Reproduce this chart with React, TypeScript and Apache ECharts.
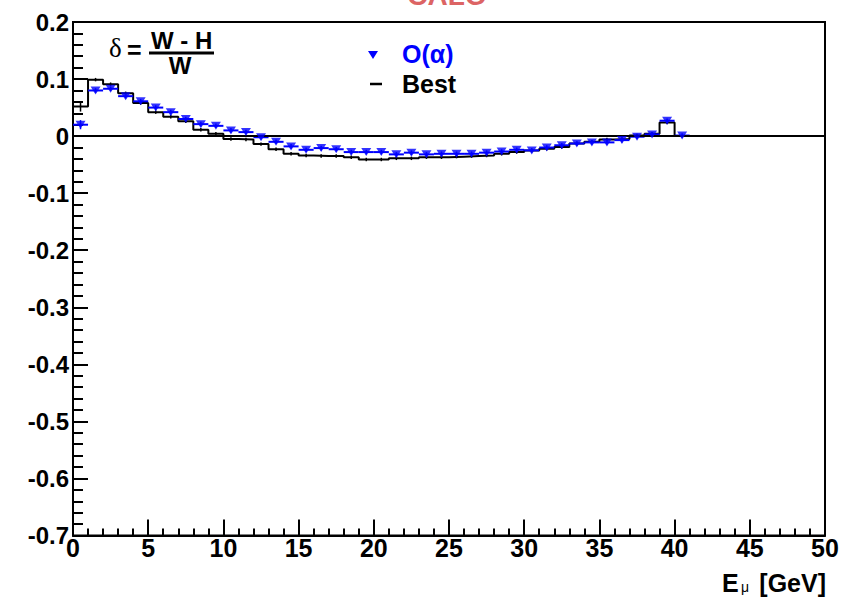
import React, { useEffect, useRef } from "react";
import * as echarts from "echarts";

// Bin centers (GeV), 1 GeV bins from 0 to 41
const binCenters = [
  0.5, 1.5, 2.5, 3.5, 4.5, 5.5, 6.5, 7.5, 8.5, 9.5,
  10.5, 11.5, 12.5, 13.5, 14.5, 15.5, 16.5, 17.5, 18.5, 19.5,
  20.5, 21.5, 22.5, 23.5, 24.5, 25.5, 26.5, 27.5, 28.5, 29.5,
  30.5, 31.5, 32.5, 33.5, 34.5, 35.5, 36.5, 37.5, 38.5, 39.5,
  40.5,
];

// O(alpha) points (blue triangles)
const oAlpha = [
  0.020, 0.080, 0.083, 0.070, 0.061, 0.050, 0.042, 0.030, 0.021, 0.018,
  0.010, 0.007, -0.002, -0.010, -0.018, -0.024, -0.021, -0.023, -0.028, -0.028,
  -0.028, -0.032, -0.029, -0.032, -0.031, -0.031, -0.031, -0.029, -0.027, -0.024,
  -0.025, -0.020, -0.016, -0.013, -0.011, -0.011, -0.007, -0.001, 0.003, 0.027,
  0.001,
];
const oAlphaErr = [
  0.008, 0.004, 0.004, 0.004, 0.004, 0.004, 0.004, 0.004, 0.004, 0.004,
  0.004, 0.004, 0.004, 0.004, 0.004, 0.004, 0.004, 0.004, 0.004, 0.004,
  0.004, 0.004, 0.004, 0.004, 0.004, 0.004, 0.004, 0.004, 0.004, 0.004,
  0.004, 0.004, 0.004, 0.004, 0.004, 0.004, 0.004, 0.004, 0.004, 0.004,
  0.004,
];

// Best (black histogram)
const best = [
  0.052, 0.099, 0.091, 0.075, 0.058, 0.042, 0.034, 0.026, 0.011, 0.004,
  -0.005, -0.006, -0.014, -0.023, -0.031, -0.034, -0.035, -0.035, -0.037, -0.041,
  -0.041, -0.039, -0.039, -0.037, -0.037, -0.036, -0.035, -0.034, -0.031, -0.028,
  -0.025, -0.022, -0.019, -0.013, -0.010, -0.006, -0.005, 0.001, 0.004, 0.024,
  0.0,
];
const bestErr = [
  0.009, 0.003, 0.003, 0.003, 0.003, 0.003, 0.003, 0.003, 0.003, 0.003,
  0.003, 0.003, 0.003, 0.003, 0.003, 0.003, 0.003, 0.003, 0.003, 0.003,
  0.003, 0.003, 0.003, 0.003, 0.003, 0.003, 0.003, 0.003, 0.003, 0.003,
  0.003, 0.003, 0.003, 0.003, 0.003, 0.003, 0.003, 0.003, 0.003, 0.003,
  0.0,
];

const xTicks = [0, 5, 10, 15, 20, 25, 30, 35, 40, 45, 50];
const yTicks = [-0.7, -0.6, -0.5, -0.4, -0.3, -0.2, -0.1, 0, 0.1, 0.2];

const FONT = "'Liberation Sans', Arial, Helvetica, sans-serif";
const BLUE = "#0000ff";

export default function App() {
  const ref = useRef<HTMLDivElement>(null);
  useEffect(() => {
    if (!ref.current) return;
    const chart = echarts.init(ref.current, undefined, { renderer: "svg" });

    const halfW = (binCenters[1] - binCenters[0]) / 2;
    const histData: number[][] = binCenters.map((c, i) => [c - halfW, best[i]]);
    histData.push([binCenters[binCenters.length - 1] + halfW, best[best.length - 1]]);

    const blueData = binCenters.map((c, i) => [c, oAlpha[i], oAlphaErr[i]]);
    const blackErrData = binCenters.map((c, i) => [c, best[i], bestErr[i]]);

    const option: any = {
      animation: false,
      backgroundColor: "#ffffff",
      grid: {
        left: 73,
        right: 27,
        top: 22,
        bottom: 61.5,
        show: true,
        borderColor: "#000",
        borderWidth: 2,
        backgroundColor: "transparent",
      },
      xAxis: {
        type: "value",
        min: xTicks[0],
        max: xTicks[xTicks.length - 1],
        interval: 5,
        splitLine: { show: false },
        axisLine: { show: true, onZero: false, lineStyle: { color: "#000", width: 2 } },
        axisTick: { show: true, inside: true, length: 16, lineStyle: { color: "#000", width: 2 } },
        minorTick: { show: true, splitNumber: 5, length: 7, lineStyle: { color: "#000", width: 2 } },
        minorSplitLine: { show: false },
        axisLabel: {
          color: "#000",
          fontFamily: FONT,
          fontWeight: "bold",
          fontSize: 25,
          margin: 0,
          showMinLabel: true,
          showMaxLabel: true,
        },
      },
      yAxis: {
        type: "value",
        min: yTicks[0],
        max: yTicks[yTicks.length - 1],
        interval: 0.1,
        splitLine: { show: false },
        axisLine: { show: true, onZero: false, lineStyle: { color: "#000", width: 2 } },
        axisTick: { show: true, inside: true, length: 15, lineStyle: { color: "#000", width: 2 } },
        minorTick: { show: true, splitNumber: 5, length: 10, lineStyle: { color: "#000", width: 2 } },
        minorSplitLine: { show: false },
        axisLabel: {
          color: "#000",
          fontFamily: FONT,
          fontWeight: "bold",
          fontSize: 24,
          margin: 4,
          formatter: (v: number) => {
            const r = Math.round(v * 10) / 10;
            return r === 0 ? "0" : String(r);
          },
        },
      },
      series: [
        {
          type: "line",
          data: histData,
          step: "end",
          symbol: "none",
          lineStyle: { color: "#000", width: 2 },
          z: 2,
          markLine: {
            silent: true,
            symbol: "none",
            label: { show: false },
            lineStyle: { color: "#000", width: 2, type: "solid" },
            data: [{ yAxis: 0 }],
          },
        },
        {
          type: "custom",
          data: blackErrData,
          z: 3,
          renderItem: (params: any, api: any) => {
            const x = api.value(0);
            const y = api.value(1);
            const e = api.value(2);
            const pT = api.coord([x, y + e]);
            const pB = api.coord([x, y - e]);
            return {
              type: "line",
              shape: { x1: pT[0], y1: pT[1], x2: pB[0], y2: pB[1] },
              style: { stroke: "#000", lineWidth: 1.5 },
            };
          },
        },
        {
          type: "custom",
          data: blueData,
          z: 4,
          renderItem: (params: any, api: any) => {
            const x = api.value(0);
            const y = api.value(1);
            const e = api.value(2);
            const pL = api.coord([x - 0.5, y]);
            const pR = api.coord([x + 0.5, y]);
            const pT = api.coord([x, y + e]);
            const pB = api.coord([x, y - e]);
            return {
              type: "group",
              children: [
                {
                  type: "line",
                  shape: { x1: pL[0], y1: pL[1], x2: pR[0], y2: pR[1] },
                  style: { stroke: BLUE, lineWidth: 2 },
                },
                {
                  type: "line",
                  shape: { x1: pT[0], y1: pT[1], x2: pB[0], y2: pB[1] },
                  style: { stroke: BLUE, lineWidth: 1.5 },
                },
              ],
            };
          },
        },
        {
          type: "scatter",
          data: binCenters.map((c, i) => [c, oAlpha[i]]),
          symbol: "triangle",
          symbolRotate: 180,
          symbolSize: [10, 8],
          itemStyle: { color: BLUE },
          z: 5,
        },
      ],
      graphic: [
        {
          type: "text",
          x: 447,
          y: -5,
          style: {
            text: "CALO",
            fill: "#dc6464",
            font: `bold 28px ${FONT}`,
            textAlign: "center",
            textVerticalAlign: "middle",
          },
        },
        {
          type: "text",
          x: 109,
          y: 48,
          style: {
            text: "δ",
            fill: "#000",
            font: `27px 'Liberation Serif', 'DejaVu Serif', serif`,
            textAlign: "left",
            textVerticalAlign: "middle",
          },
        },
        {
          type: "text",
          x: 127,
          y: 50,
          style: {
            text: "=",
            fill: "#000",
            font: `bold 25px ${FONT}`,
            textAlign: "left",
            textVerticalAlign: "middle",
          },
        },
        {
          type: "text",
          x: 151,
          y: 40,
          style: {
            text: "W - H",
            fill: "#000",
            font: `bold 24px ${FONT}`,
            textAlign: "left",
            textVerticalAlign: "middle",
          },
        },
        {
          type: "line",
          shape: { x1: 149, y1: 53, x2: 214, y2: 53 },
          style: { stroke: "#000", lineWidth: 3 },
        },
        {
          type: "text",
          x: 180,
          y: 65,
          style: {
            text: "W",
            fill: "#000",
            font: `bold 24px ${FONT}`,
            textAlign: "center",
            textVerticalAlign: "middle",
          },
        },
        {
          type: "polygon",
          shape: { points: [[368, 51], [378, 51], [373, 59]] },
          style: { fill: BLUE },
        },
        {
          type: "text",
          x: 402,
          y: 54,
          style: {
            text: "O(α)",
            fill: BLUE,
            font: `bold 25px ${FONT}`,
            textAlign: "left",
            textVerticalAlign: "middle",
          },
        },
        {
          type: "line",
          shape: { x1: 370, y1: 84, x2: 382, y2: 84 },
          style: { stroke: "#000", lineWidth: 2.5 },
        },
        {
          type: "text",
          x: 402,
          y: 84,
          style: {
            text: "Best",
            fill: "#000",
            font: `bold 25px ${FONT}`,
            textAlign: "left",
            textVerticalAlign: "middle",
          },
        },
        {
          type: "text",
          x: 826,
          y: 583,
          style: {
            text: "[GeV]",
            fill: "#000",
            font: `bold 25px ${FONT}`,
            textAlign: "right",
            textVerticalAlign: "middle",
          },
        },
        {
          type: "text",
          x: 741,
          y: 587,
          style: {
            text: "μ",
            fill: "#000",
            font: `14px ${FONT}`,
            textAlign: "left",
            textVerticalAlign: "middle",
          },
        },
        {
          type: "text",
          x: 722,
          y: 583,
          style: {
            text: "E",
            fill: "#000",
            font: `bold 25px ${FONT}`,
            textAlign: "left",
            textVerticalAlign: "middle",
          },
        },
      ],
    };

    chart.setOption(option);
    return () => chart.dispose();
  }, []);

  return <div ref={ref} style={{ width: 852, height: 597, position: "absolute", left: 0, top: 0 }} />;
}
